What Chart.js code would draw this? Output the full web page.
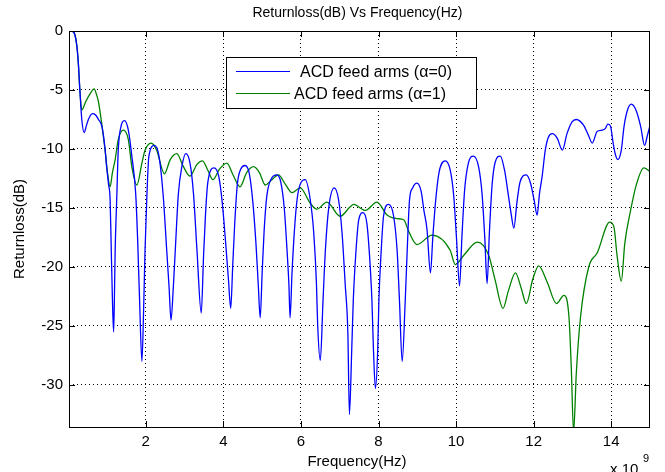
<!DOCTYPE html>
<html>
<head>
<meta charset="utf-8">
<script src="https://cdn.jsdelivr.net/npm/chart.js@4.4.1/dist/chart.umd.min.js"></script>
<style>
  html, body { margin: 0; padding: 0; background: #fff; }
  #wrap { width: 665px; height: 472px; }
</style>
</head>
<body>
<div id="wrap"><canvas id="chart-rl" width="665" height="472"></canvas></div>
<script>
// frequency in units of 1e9 Hz, return loss in dB
const freqA0 = [
  0.02, 0.09, 0.17, 0.22, 0.26, 0.30, 0.35, 0.41, 0.47, 0.52,
  0.62, 0.70, 0.78, 0.87, 0.95, 0.99, 1.04, 1.08, 1.11, 1.14,
  1.17, 1.19, 1.21, 1.25, 1.29, 1.36, 1.45, 1.55, 1.64, 1.74,
  1.79, 1.84, 1.90, 1.95, 1.98, 2.03, 2.08, 2.22, 2.34, 2.45,
  2.54, 2.60, 2.65, 2.71, 2.76, 2.84, 2.93, 3.03, 3.14, 3.23,
  3.32, 3.43, 3.49, 3.54, 3.60, 3.76, 3.88, 3.97, 4.06, 4.13,
  4.19, 4.24, 4.29, 4.36, 4.45, 4.56, 4.67, 4.76, 4.84, 4.90,
  4.95, 5.00, 5.05, 5.12, 5.24, 5.38, 5.48, 5.57, 5.64, 5.69,
  5.72, 5.77, 5.83, 5.90, 5.98, 6.11, 6.24, 6.33, 6.40, 6.43,
  6.50, 6.57, 6.63, 6.72, 6.86, 6.97, 7.06, 7.14, 7.21, 7.25,
  7.31, 7.35, 7.42, 7.49, 7.60, 7.70, 7.77, 7.83, 7.87, 7.92,
  7.98, 8.01, 8.07, 8.13, 8.26, 8.39, 8.48, 8.54, 8.61, 8.69,
  8.74, 8.80, 8.88, 8.99, 9.10, 9.17, 9.25, 9.34, 9.40, 9.47,
  9.56, 9.72, 9.85, 9.94, 10.01, 10.09, 10.15, 10.22, 10.31, 10.45,
  10.58, 10.67, 10.74, 10.80, 10.86, 10.93, 11.01, 11.14, 11.25, 11.33,
  11.42, 11.49, 11.57, 11.65, 11.81, 11.92, 12.01, 12.09, 12.15, 12.22,
  12.30, 12.38, 12.48, 12.61, 12.74, 12.86, 12.99, 13.10, 13.29, 13.42,
  13.51, 13.64, 13.77, 13.85, 13.91, 13.98, 14.05, 14.11, 14.17, 14.26,
  14.33, 14.42, 14.52, 14.65, 14.76, 14.86, 14.93, 15.00
];
const lossA0 = [
  0, 0, -0.3, -1.2, -2.7, -5.0, -7.5, -8.6, -8.0, -7.5,
  -7.0, -7.1, -7.5, -8.1, -10.0, -11.5, -13.0, -14.3, -18.6, -22.8,
  -25.5, -22.8, -18.6, -14.3, -10.1, -8.1, -7.6, -8.4, -10.6, -13.8,
  -17.7, -22.8, -28.0, -22.8, -18.6, -13.8, -10.6, -9.7, -10.6, -14.0,
  -18.6, -21.7, -24.5, -21.7, -18.6, -13.8, -11.5, -10.4, -11.2, -13.8,
  -18.6, -23.9, -19.0, -15.5, -12.8, -11.6, -12.3, -14.5, -18.0, -21.0,
  -23.5, -20.0, -16.5, -13.0, -11.7, -11.4, -12.1, -14.5, -18.0, -21.5,
  -24.3, -20.5, -17.0, -14.0, -12.5, -12.2, -12.8, -15.0, -18.5, -21.5,
  -24.3, -20.5, -17.0, -14.3, -13.0, -12.6, -14.3, -17.1, -21.4, -24.8,
  -27.9, -22.8, -18.6, -14.9, -13.3, -14.3, -17.1, -21.4, -25.6, -32.5,
  -27.0, -22.8, -18.6, -16.0, -15.4, -16.3, -19.1, -22.8, -27.0, -30.3,
  -27.0, -22.8, -18.6, -15.7, -14.7, -15.7, -18.6, -22.8, -28.0, -22.8,
  -18.6, -14.3, -13.3, -12.9, -13.6, -15.2, -16.8, -20.5, -17.5, -14.5,
  -12.0, -11.0, -11.8, -14.0, -17.5, -21.6, -17.5, -13.5, -11.3, -10.6,
  -11.5, -13.8, -17.5, -21.4, -17.0, -13.0, -11.1, -10.6, -11.8, -13.5,
  -15.5, -16.7, -14.5, -12.8, -12.2, -12.9, -14.3, -15.6, -13.8, -12.3,
  -10.1, -9.0, -8.7, -9.1, -10.1, -8.7, -7.7, -7.5, -8.0, -8.9,
  -9.5, -8.5, -8.4, -8.25, -7.9, -8.05, -9.5, -10.5, -10.9, -10.1,
  -8.1, -6.7, -6.2, -6.8, -8.1, -9.7, -8.9, -8.0
];

const freqA1 = [
  0.02, 0.09, 0.17, 0.22, 0.26, 0.30, 0.35, 0.45, 0.55, 0.67,
  0.73, 0.78, 0.87, 0.95, 1.02, 1.08, 1.14, 1.21, 1.29, 1.42,
  1.55, 1.64, 1.77, 1.90, 1.98, 2.14, 2.28, 2.48, 2.63, 2.80,
  2.97, 3.14, 3.32, 3.46, 3.60, 3.73, 3.90, 4.09, 4.25, 4.43,
  4.60, 4.78, 4.93, 5.08, 5.25, 5.42, 5.60, 5.77, 5.98, 6.24,
  6.41, 6.67, 7.01, 7.27, 7.36, 7.66, 7.96, 8.22, 8.48, 8.65,
  8.78, 8.99, 9.38, 9.85, 9.98, 10.20, 10.55, 10.84, 11.00, 11.21,
  11.35, 11.53, 11.68, 11.81, 11.98, 12.13, 12.35, 12.59, 12.78, 12.91,
  12.97, 13.03, 13.10, 13.21, 13.42, 13.64, 13.96, 14.07, 14.15, 14.26,
  14.35, 14.50, 14.65, 14.84, 15.00
];
const lossA1 = [
  0, 0, -0.3, -1.2, -2.7, -5.0, -6.7, -6.0, -5.4, -4.9,
  -5.4, -6.0, -8.0, -10.1, -12.2, -13.2, -12.0, -10.9, -9.2, -8.4,
  -9.2, -11.5, -13.05, -11.2, -10.1, -9.5, -10.1, -12.1, -10.9, -10.4,
  -11.5, -12.3, -11.3, -11.0, -11.8, -12.6, -11.7, -11.2, -12.2, -13.2,
  -12.0, -11.5, -12.0, -13.05, -12.6, -12.2, -13.0, -13.7, -13.3, -14.6,
  -15.1, -14.5, -15.7, -14.9, -14.7, -15.2, -14.5, -15.6, -15.9, -16.0,
  -17.0, -18.1, -17.3, -18.6, -19.8, -19.0, -17.9, -19.0, -21.0, -23.5,
  -22.0, -20.5, -21.8, -23.1, -21.0, -19.9, -21.3, -23.1, -22.4, -24.2,
  -28.5, -34.0, -29.0, -24.2, -20.0, -18.8, -16.2, -16.6, -19.0, -21.2,
  -18.0, -15.2, -13.0, -11.6, -11.9
];

const xTicks = [2, 4, 6, 8, 10, 12, 14];
const yTicks = [-30, -25, -20, -15, -10, -5, 0];
const seriesLabels = ["ACD feed arms (\u03b1=0)", "ACD feed arms (\u03b1=1)"];
const seriesColors = ["#0000ff", "#008000"];

const FONT = '"Liberation Sans", Arial, sans-serif';

function toPoints(xs, ys) {
  return xs.map((x, i) => ({ x: x, y: ys[i] }));
}

// matlab style frame: box, inward ticks, title, axis labels, legend
const matlabFrame = {
  id: "matlabFrame",
  afterDraw(chart) {
    const ctx = chart.ctx;
    const a = chart.chartArea;
    const sx = chart.scales.x;
    const sy = chart.scales.y;
    ctx.save();
    ctx.strokeStyle = "#000";
    ctx.lineWidth = 1;
    ctx.strokeRect(a.left + 0.5, a.top + 0.5, a.right - a.left - 1, a.bottom - a.top);

    ctx.beginPath();
    xTicks.forEach((v) => {
      const px = Math.round(sx.getPixelForValue(v)) + 0.5;
      ctx.moveTo(px, a.bottom);
      ctx.lineTo(px, a.bottom - 6);
      ctx.moveTo(px, a.top);
      ctx.lineTo(px, a.top + 6);
    });
    yTicks.forEach((v) => {
      const py = Math.round(sy.getPixelForValue(v)) + 0.5;
      ctx.moveTo(a.left, py);
      ctx.lineTo(a.left + 6, py);
      ctx.moveTo(a.right, py);
      ctx.lineTo(a.right - 6, py);
    });
    ctx.stroke();

    ctx.fillStyle = "#000";
    ctx.textAlign = "center";
    ctx.textBaseline = "middle";
    ctx.font = "14px " + FONT;
    ctx.fillText("Returnloss(dB) Vs Frequency(Hz)", (a.left + a.right) / 2 - 2, 13);

    ctx.font = "15px " + FONT;
    ctx.fillText("Frequency(Hz)", 357, 462);

    ctx.save();
    ctx.translate(20, (a.top + a.bottom) / 2);
    ctx.rotate(-Math.PI / 2);
    ctx.fillText("Returnloss(dB)", 0, 0);
    ctx.restore();

    ctx.textAlign = "left";
    ctx.textBaseline = "top";
    ctx.font = "15px " + FONT;
    ctx.fillText("x 10", 610, 462);
    ctx.font = "11px " + FONT;
    ctx.fillText("9", 643, 453);

    // legend
    const lx = 226, ly = 57, lw = 250, lh = 51;
    ctx.fillStyle = "#fff";
    ctx.fillRect(lx, ly, lw, lh);
    ctx.strokeStyle = "#000";
    ctx.strokeRect(lx + 0.5, ly + 0.5, lw, lh);
    const rows = [
      { y: 71, tx: 300 },
      { y: 93, tx: 294 },
    ];
    chart.data.datasets.forEach((ds, i) => {
      ctx.strokeStyle = ds.borderColor;
      ctx.lineWidth = 1;
      ctx.beginPath();
      ctx.moveTo(236, rows[i].y + 0.5);
      ctx.lineTo(290, rows[i].y + 0.5);
      ctx.stroke();
      ctx.fillStyle = "#000";
      ctx.font = "16px " + FONT;
      ctx.textBaseline = "middle";
      ctx.fillText(ds.label, rows[i].tx, rows[i].y + 2);
    });
    ctx.restore();
  },
};

const chartRl = new Chart(document.getElementById("chart-rl").getContext("2d"), {
  type: "line",
  data: {
    datasets: [
      {
        label: seriesLabels[0],
        data: toPoints(freqA0, lossA0),
        borderColor: seriesColors[0],
        borderWidth: 1.3,
        pointRadius: 0,
        cubicInterpolationMode: "monotone",
      },
      {
        label: seriesLabels[1],
        data: toPoints(freqA1, lossA1),
        borderColor: seriesColors[1],
        borderWidth: 1.3,
        pointRadius: 0,
        cubicInterpolationMode: "monotone",
      },
    ],
  },
  options: {
    responsive: false,
    animation: false,
    devicePixelRatio: 1,
    layout: {
      padding: { left: 0, right: 15, top: 31, bottom: 0 },
    },
    plugins: {
      legend: { display: false },
      title: { display: false },
      tooltip: { enabled: false },
    },
    scales: {
      x: {
        type: "linear",
        min: 0.02,
        max: 15,
        afterBuildTicks: (s) => {
          s.ticks = xTicks.map((v) => ({ value: v }));
        },
        afterFit: (s) => {
          s.height = 45;
        },
        grid: { color: "#000", lineWidth: 1, drawTicks: false },
        border: { display: false, dash: [1, 3] },
        ticks: {
          color: "#000",
          padding: 6,
          maxRotation: 0,
          font: { family: FONT, size: 15 },
          callback: (v) => v,
        },
      },
      y: {
        type: "linear",
        min: -33.56,
        max: 0,
        afterBuildTicks: (s) => {
          s.ticks = yTicks.map((v) => ({ value: v }));
        },
        afterFit: (s) => {
          s.width = 69;
        },
        grid: { color: "#000", lineWidth: 1, drawTicks: false },
        border: { display: false, dash: [1, 3] },
        ticks: {
          color: "#000",
          padding: 6,
          font: { family: FONT, size: 15 },
          callback: (v) => v,
        },
      },
    },
  },
  plugins: [matlabFrame],
});
</script>
</body>
</html>
